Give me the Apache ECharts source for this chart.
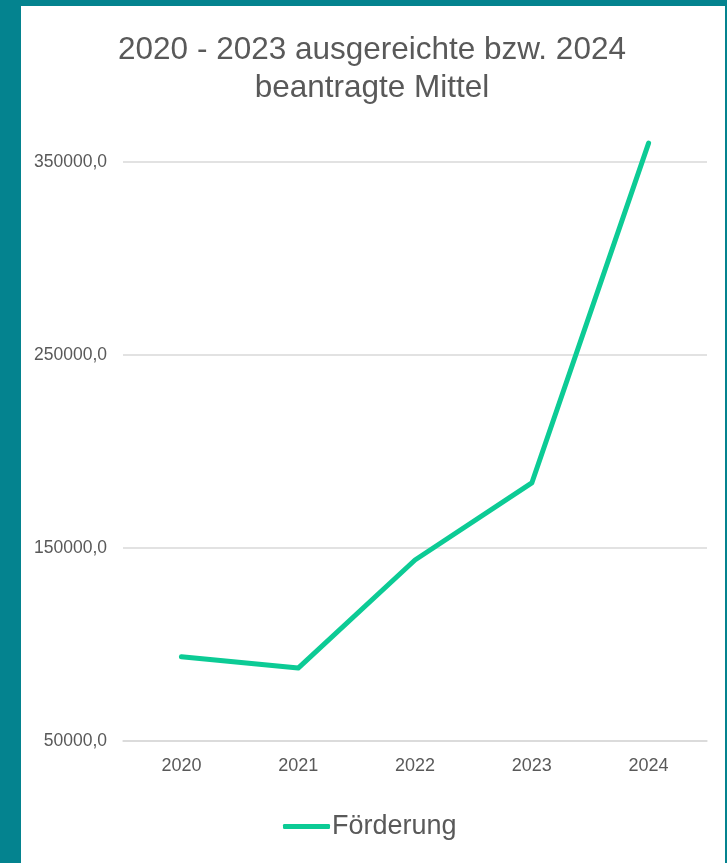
<!DOCTYPE html>
<html>
<head>
<meta charset="utf-8">
<script src="https://cdn.jsdelivr.net/npm/echarts@6/dist/echarts.min.js"></script>
<style>
html,body{margin:0;padding:0;background:#04838f;}
#c{width:727px;height:863px;}
</style>
</head>
<body>
<div id="c"></div>
<script>
const categories = ['2020', '2021', '2022', '2023', '2024'];
const foerderung = [93700, 87800, 143800, 183700, 359800];
const seriesName = 'Förderung';
const titleLines = ['2020 - 2023 ausgereichte bzw. 2024', 'beantragte Mittel'];

const chart = echarts.init(document.getElementById('c'), null, {renderer: 'canvas'});
chart.setOption({
  backgroundColor: '#04838f',
  animation: false,
  graphic: [{
    type: 'rect', z: -10, silent: true,
    shape: {x: 21, y: 6, width: 704, height: 857},
    style: {fill: '#ffffff'}
  }],
  title: {
    text: titleLines.join('\n'),
    left: 367, textAlign: 'center', top: 26,
    textStyle: {fontFamily: 'Liberation Sans, Arial, sans-serif', fontSize: 31.5, fontWeight: 'normal', color: '#595959', lineHeight: 38}
  },
  legend: {
    data: [{name: seriesName, icon: 'roundRect'}],
    left: 278, top: 808,
    itemWidth: 47, itemHeight: 5, itemGap: 10,
    textStyle: {fontFamily: 'Liberation Sans, Arial, sans-serif', fontSize: 27, color: '#595959', padding: [0, 0, 0, -3]}
  },
  grid: {left: 123, right: 20, top: 162, bottom: 122, containLabel: false},
  xAxis: {
    type: 'category',
    data: categories,
    boundaryGap: true,
    axisLine: {show: true, lineStyle: {color: '#d9d9d9', width: 1.5}},
    axisTick: {show: false},
    axisLabel: {margin: 16, fontFamily: 'Liberation Sans, Arial, sans-serif', fontSize: 18, color: '#595959'}
  },
  yAxis: {
    type: 'value',
    min: 50000, max: 350000, interval: 100000,
    axisLine: {show: false},
    axisTick: {show: false},
    splitLine: {lineStyle: {color: '#d9d9d9', width: 1.5}},
    axisLabel: {
      margin: 16,
      fontFamily: 'Liberation Sans, Arial, sans-serif', fontSize: 17.5, color: '#595959',
      formatter: v => v.toFixed(1).replace('.', ',')
    }
  },
  series: [{
    name: seriesName,
    type: 'line',
    data: foerderung,
    symbol: 'none',
    clip: false,
    itemStyle: {color: '#0ccb95'},
    lineStyle: {color: '#0ccb95', width: 5, cap: 'round', join: 'round'}
  }]
});
</script>
</body>
</html>
